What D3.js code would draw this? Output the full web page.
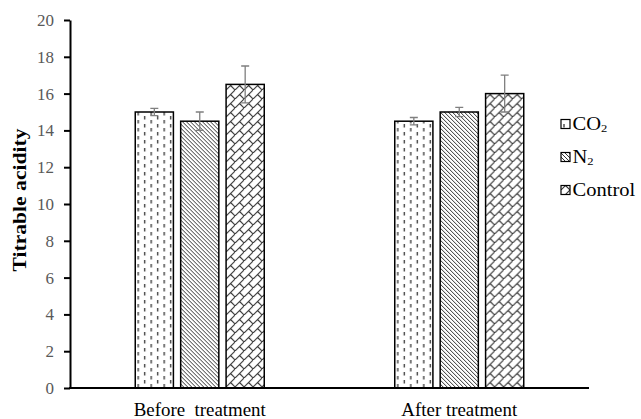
<!DOCTYPE html>
<html>
<head>
<meta charset="utf-8">
<script src="https://cdn.jsdelivr.net/npm/d3@7"></script>
<style>
  body { margin: 0; background: #fff; }
  svg, svg text { font-family: 'Liberation Serif', 'Times New Roman', serif !important; }
</style>
</head>
<body>
<script>
'use strict'

var groups = ['Before  treatment', 'After treatment']
  , series = ['CO2', 'N2', 'Control']
  , co2Values = [15.0, 14.5]
  , n2Values = [14.5, 15.0]
  , controlValues = [16.5, 16.0]
  , co2Errors = [0.2, 0.2]
  , n2Errors = [0.5, 0.25]
  , controlErrors = [1.0, 1.0]
  , yTicks = [0, 2, 4, 6, 8, 10, 12, 14, 16, 18, 20]

var w = 641, h = 419
  , serif = "'Liberation Serif', 'Times New Roman', serif"
  , svg = d3.select('body').append('svg').attr('width', w).attr('height', h)
      .attr('font-family', serif)
  , defs = svg.append('defs')
  , x0 = d3.scaleBand().domain(groups).range([70, 589])
  , x1 = d3.scaleBand().domain(series).range([-64.5, 64.5]).paddingInner(0.16)
  , y = d3.scaleLinear().domain([0, 20]).range([388, 20])
  , valuesBy = { CO2: co2Values, N2: n2Values, Control: controlValues }
  , errorsBy = { CO2: co2Errors, N2: n2Errors, Control: controlErrors }

// fill patterns
var p = defs.append('pattern').attr('id', 'pat-CO2').attr('patternUnits', 'userSpaceOnUse')
  .attr('width', 13).attr('height', 8)
p.append('rect').attr('width', 13).attr('height', 8).attr('fill', '#fff')
p.append('path').attr('d', 'M3,0V3.5M9.5,4V7.5').attr('stroke', '#222').attr('stroke-width', 1.2)

p = defs.append('pattern').attr('id', 'pat-N2').attr('patternUnits', 'userSpaceOnUse')
  .attr('width', 4).attr('height', 4)
p.append('rect').attr('width', 4).attr('height', 4).attr('fill', '#fff')
p.append('path').attr('d', 'M-1,-1L5,5M-1,3L1,5M3,-1L5,1').attr('stroke', '#333').attr('stroke-width', 1)

p = defs.append('pattern').attr('id', 'pat-Control').attr('patternUnits', 'userSpaceOnUse')
  .attr('width', 9).attr('height', 9)
p.append('rect').attr('width', 9).attr('height', 9).attr('fill', '#fff')
p.append('path').attr('d', 'M-1,10L10,-1M4.5,4.5L9,9').attr('stroke', '#333').attr('stroke-width', 1.1)

// bars
var data = []
groups.forEach(function(g, i){
  series.forEach(function(s){
    data.push({ g: g, s: s, v: valuesBy[s][i], e: errorsBy[s][i] })
  })
})

var bar = svg.selectAll('g.bar').data(data).enter().append('g')
  .attr('class', 'bar')
  .attr('transform', function(d){ return 'translate(' + (x0(d.g) + x0.bandwidth() / 2 + x1(d.s)) + ',0)' })

bar.append('rect')
  .attr('x', 0).attr('width', x1.bandwidth())
  .attr('y', function(d){ return y(d.v) })
  .attr('height', function(d){ return y(0) - y(d.v) })
  .attr('fill', function(d){ return 'url(#pat-' + d.s + ')' })
  .attr('stroke', '#000').attr('stroke-width', 1.5)

// error bars
var cx = x1.bandwidth() / 2
bar.append('path')
  .attr('d', function(d){
    var t = y(d.v + d.e), b = y(d.v - d.e)
    return 'M' + cx + ',' + t + 'V' + b + 'M' + (cx - 4) + ',' + t + 'H' + (cx + 4) + 'M' + (cx - 4) + ',' + b + 'H' + (cx + 4)
  })
  .attr('stroke', '#7f7f7f').attr('stroke-width', 1.3).attr('fill', 'none')

// axes
var yAxis = svg.append('g').attr('transform', 'translate(70,0)')
  .call(d3.axisLeft(y).tickValues(yTicks).tickSize(6).tickSizeOuter(0).tickPadding(10))
  .attr('font-family', serif).attr('font-size', 17)
yAxis.select('.domain').attr('stroke', '#000').attr('stroke-width', 2)
yAxis.selectAll('.tick line').attr('stroke', '#000').attr('stroke-width', 2)
yAxis.selectAll('.tick text').attr('fill', '#595959')

svg.append('line')
  .attr('x1', x0.range()[0] - 1).attr('x2', x0.range()[1])
  .attr('y1', y(0)).attr('y2', y(0))
  .attr('stroke', '#000').attr('stroke-width', 2)

// category labels, slightly widened like the source
svg.selectAll('text.cat').data(groups).enter().append('text')
  .attr('class', 'cat')
  .attr('transform', function(d){ return 'translate(' + (x0(d) + x0.bandwidth() / 2) + ',416) scale(1.05,1)' })
  .attr('text-anchor', 'middle')
  .style('white-space', 'pre')
  .attr('font-size', 18)
  .attr('fill', '#000')
  .text(function(d){ return d })

svg.append('text')
  .attr('transform', 'translate(26,200) rotate(-90) scale(1.2,1)')
  .attr('text-anchor', 'middle')
  .attr('font-size', 18).attr('font-weight', 'bold')
  .text('Titrable acidity')

// legend
var legendY = [124, 157, 190]
var lg = svg.selectAll('g.legend').data(series).enter().append('g')
  .attr('class', 'legend')
  .attr('transform', function(d, i){ return 'translate(561,' + legendY[i] + ')' })

lg.append('rect')
  .attr('x', 0).attr('y', -4.5).attr('width', 9).attr('height', 9)
  .attr('fill', function(d){ return 'url(#pat-' + d + ')' })
  .attr('stroke', '#000').attr('stroke-width', 1.2)

var lt = lg.append('text')
  .attr('transform', 'translate(11.5,6) scale(1.14,1)')
  .attr('font-size', 18)
lt.append('tspan').text(function(d){ return d === 'Control' ? d : d.slice(0, -1) })
lt.filter(function(d){ return d !== 'Control' })
  .append('tspan').attr('dy', 2).attr('font-size', 11).text('2')
</script>
</body>
</html>
